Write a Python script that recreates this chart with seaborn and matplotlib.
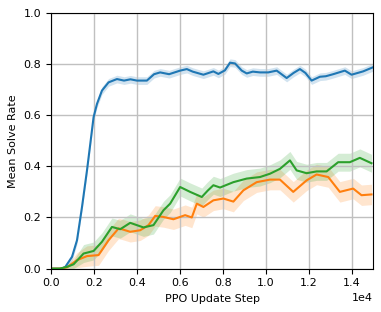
import numpy as np
import pandas as pd
import matplotlib
matplotlib.use("Agg")
import matplotlib.pyplot as plt
import seaborn as sns

# values
blue_x = [0, 300, 500, 665, 977, 1209, 1442, 1674, 1828, 1981, 2140, 2372, 2679, 3070, 3400, 3700, 4000,
          4465, 4800, 5084, 5500, 6014, 6325, 6600, 7098, 7563, 7795, 8100, 8340, 8572, 8884, 9116,
          9400, 9735, 10121, 10512, 10977, 11300, 11595, 11850, 12140, 12526, 12800, 13145, 13688,
          14000, 14540, 15000]
blue_y = [0.0, 0.0, 0.0, 0.007, 0.046, 0.111, 0.241, 0.384, 0.488, 0.592, 0.644, 0.696, 0.728, 0.741,
          0.735, 0.74, 0.735, 0.735, 0.76, 0.767, 0.76, 0.774, 0.78, 0.77, 0.758, 0.771, 0.761, 0.775,
          0.805, 0.802, 0.774, 0.763, 0.77, 0.767, 0.767, 0.774, 0.745, 0.765, 0.78, 0.765, 0.735, 0.75,
          0.752, 0.76, 0.774, 0.758, 0.771, 0.787]

green_x = [0, 400, 744, 1051, 1516, 1981, 2372, 2837, 3223, 3688, 4307, 4772, 5237, 5549, 6014, 6479,
           7023, 7300, 7563, 7874, 8495, 9116, 9735, 10200, 10665, 11130, 11442, 11907, 12372, 12837,
           13377, 13921, 14386, 14930]
green_y = [0.0, 0.0, 0.007, 0.017, 0.059, 0.069, 0.105, 0.163, 0.154, 0.179, 0.161, 0.17, 0.228, 0.254,
           0.319, 0.30, 0.28, 0.305, 0.326, 0.317, 0.338, 0.352, 0.358, 0.371, 0.39, 0.423, 0.384, 0.373,
           0.38, 0.38, 0.416, 0.416, 0.433, 0.412]

orange_x = [0, 400, 744, 1209, 1674, 2214, 2679, 3144, 3300, 3688, 4153, 4540, 4851, 5237, 5702, 6247,
            6558, 6791, 7098, 7563, 8028, 8495, 8960, 9580, 10200, 10665, 11284, 11907, 12372, 12915,
            13456, 14075, 14465, 14930]
orange_y = [0.0, 0.0, 0.005, 0.033, 0.049, 0.053, 0.111, 0.157, 0.154, 0.144, 0.15, 0.17, 0.206, 0.202,
            0.193, 0.209, 0.2, 0.254, 0.241, 0.267, 0.274, 0.262, 0.306, 0.338, 0.348, 0.348, 0.30, 0.345,
            0.368, 0.358, 0.30, 0.313, 0.287, 0.29]

series = [
    (blue_x, blue_y, "#1f77b4", 0.015),
    (orange_x, orange_y, "#ff7f0e", 0.04),
    (green_x, green_y, "#2ca02c", 0.035),
]

fig = plt.figure(figsize=(3.81, 3.12), dpi=100)
ax = fig.add_axes([0.134, 0.139, 0.845, 0.82])

for xs, ys, color, band in series:
    df = pd.DataFrame({"step": xs, "rate": ys})
    # band shrinks to nothing where the curve sits at zero
    width = np.minimum(band, df["rate"] * 0.8 + 0.003)
    ax.fill_between(df["step"], np.clip(df["rate"] - width, 0, None), df["rate"] + width,
                    color=color, alpha=0.2, linewidth=0)
    sns.lineplot(data=df, x="step", y="rate", color=color, linewidth=1.5, ax=ax)

ax.set_xlim(0, 15000)
ax.set_ylim(0, 1.0)
ax.ticklabel_format(axis="x", style="sci", scilimits=(0, 0))
ax.xaxis.get_offset_text().set_fontsize(8)
ax.set_xlabel("PPO Update Step", fontsize=8)
ax.set_ylabel("Mean Solve Rate", fontsize=8)
ax.tick_params(labelsize=8)
ax.grid(True, color="#c0c0c0", linewidth=1.0)

fig.savefig("out.png", dpi=100)
